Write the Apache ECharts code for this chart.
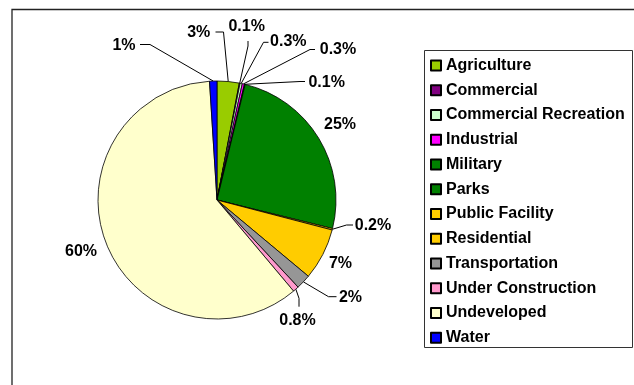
<!DOCTYPE html>
<html>
<head>
<meta charset="utf-8">
<title>Land Use</title>
<script src="https://cdn.jsdelivr.net/npm/echarts@6/dist/echarts.min.js"></script>
<style>
  html, body { margin: 0; padding: 0; background: #fff; }
  #chart { width: 634px; height: 385px; }
</style>
</head>
<body>
<div id="chart"></div>
<script>
// Land use categories and their share of total area (percent)
const categories = [
  'Agriculture', 'Commercial', 'Commercial Recreation', 'Industrial',
  'Military', 'Parks', 'Public Facility', 'Residential',
  'Transportation', 'Under Construction', 'Undeveloped', 'Water'
];
const shares = [3, 0.1, 0.3, 0.3, 0.1, 25, 0.2, 7, 2, 0.8, 60, 1];

// Fill colour per category
const colors = [
  '#99CC00', '#800080', '#CCFFCC', '#FF00FF',
  '#008000', '#008000', '#FFCC00', '#FFCC00',
  '#969696', '#FF99CC', '#FFFFCC', '#0000FF'
];

// Slices whose percentage sits beside the slice without a leader line
const noLeader = ['Parks', 'Residential', 'Undeveloped'];

// Where each percentage label sits, with its leader line's bend and end
const labelSpots = [
  { at: [198.7, 32.5], bend: [223.5, 32], end: [215.5, 32] },
  { at: [246.7, 27],   bend: [248, 46],   end: [248, 41] },
  { at: [288.3, 42],   bend: [263.5, 42.3], end: [268.5, 42.3] },
  { at: [338, 50],     bend: [310, 49.5], end: [315, 49.5] },
  { at: [326.7, 82.5], bend: [300, 81.5], end: [305, 81.5] },
  { at: [340, 124.5] },
  { at: [373, 225.8],  bend: [346.5, 225], end: [353, 225] },
  { at: [340.5, 264] },
  { at: [350.5, 297.5], bend: [328.5, 296.7], end: [336.5, 296.7] },
  { at: [297.5, 321],  bend: [299, 298.3], end: [299, 306.7] },
  { at: [81, 252] },
  { at: [124, 46],     bend: [150, 44.5], end: [140, 44.5] }
];

const font = "'Liberation Sans', Arial, sans-serif";

const pieData = categories.map((name, i) => ({
  name: name,
  value: shares[i],
  itemStyle: { color: colors[i] },
  labelLine: { show: noLeader.indexOf(name) < 0 }
}));

const chart = echarts.init(document.getElementById('chart'), null, { renderer: 'canvas' });

chart.setOption({
  animation: false,
  backgroundColor: '#fff',
  graphic: [
    // outer chart frame
    {
      type: 'rect', z: -1, silent: true,
      shape: { x: 12, y: 9.5, width: 700, height: 420 },
      style: { fill: 'none', stroke: '#222', lineWidth: 1.3 }
    },
    // legend box
    {
      type: 'rect', silent: true,
      shape: { x: 424.5, y: 50.5, width: 208, height: 297 },
      style: { fill: 'none', stroke: '#333', lineWidth: 1 }
    }
  ],
  legend: {
    orient: 'vertical',
    left: 430,
    top: 57.5,
    padding: 0,
    icon: 'rect',
    itemWidth: 10,
    itemHeight: 10,
    itemGap: 8.75,
    selectedMode: false,
    textStyle: {
      fontFamily: font,
      fontWeight: 'bold',
      fontSize: 16,
      lineHeight: 16,
      color: '#000'
    },
    data: categories
  },
  series: [{
    type: 'pie',
    center: [217, 200],
    radius: 119,
    startAngle: 90,
    clockwise: true,
    avoidLabelOverlap: false,
    emphasis: { disabled: true },
    itemStyle: { borderColor: '#000', borderWidth: 0.8 },
    label: {
      show: true,
      position: 'outside',
      formatter: '{c}%',
      fontFamily: font,
      fontWeight: 'bold',
      fontSize: 16,
      color: '#000'
    },
    labelLine: {
      show: true,
      length: 10,
      length2: 10,
      lineStyle: { color: '#000', width: 1 }
    },
    labelLayout: function (params) {
      const spot = labelSpots[params.dataIndex];
      const out = {
        x: spot.at[0],
        y: spot.at[1],
        align: 'center',
        verticalAlign: 'middle'
      };
      if (spot.bend && params.labelLinePoints) {
        out.labelLinePoints = [params.labelLinePoints[0], spot.bend, spot.end];
      }
      return out;
    },
    data: pieData
  }]
});
</script>
</body>
</html>
